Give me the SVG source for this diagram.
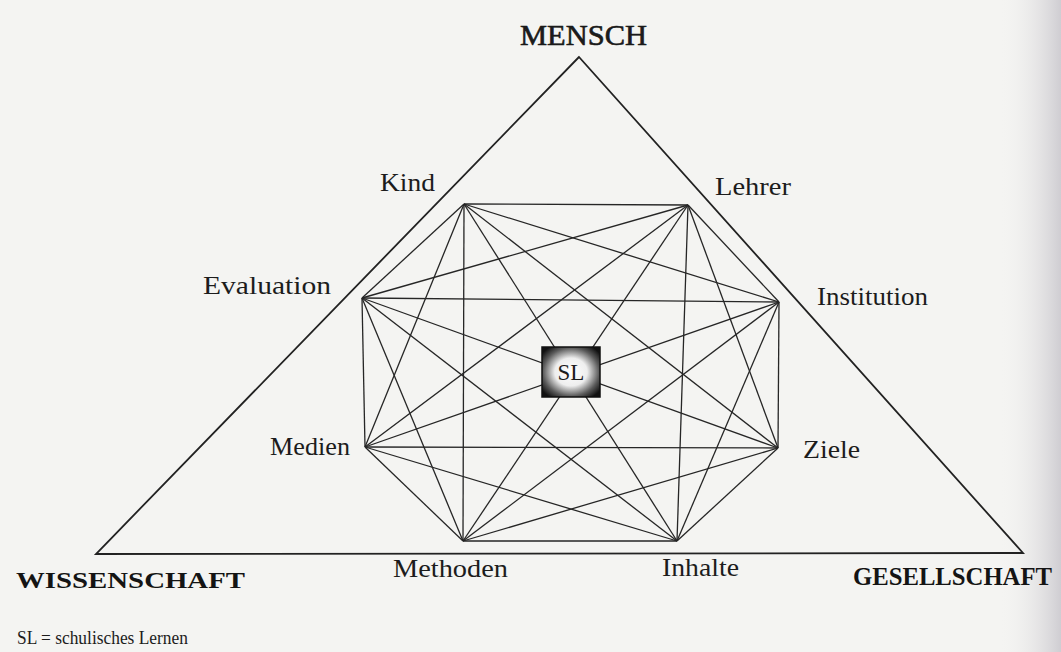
<svg xmlns="http://www.w3.org/2000/svg" width="1061" height="652" viewBox="0 0 1061 652">
<defs>
<radialGradient id="slg" cx="0.5" cy="0.5" r="0.62">
<stop offset="0" stop-color="#ffffff"/>
<stop offset="0.45" stop-color="#eeeeee"/>
<stop offset="0.78" stop-color="#5a5a5a"/>
<stop offset="1" stop-color="#111"/>
</radialGradient>
<linearGradient id="edge" x1="0" y1="0" x2="1" y2="0">
<stop offset="0" stop-color="#f3f3f1" stop-opacity="0"/>
<stop offset="1" stop-color="#cfcdd2"/>
</linearGradient>
<style>
.t{font-family:"Liberation Serif","Times New Roman",serif;fill:#1c1c1c;font-size:26px}
.b{font-family:"Liberation Serif","Times New Roman",serif;fill:#141414;font-size:24px;font-weight:bold}
.e{stroke:#262626;stroke-width:1.3;fill:none}
.tri{stroke:#222;stroke-width:1.8;fill:none}
</style>
</defs>
<rect width="1061" height="652" fill="#f4f4f2"/>
<rect x="1000" y="0" width="61" height="652" fill="url(#edge)"/>
<polygon class="tri" points="579,57 96,554 1023,553"/>
<g id="connectors">
<line class="e" x1="464" y1="204" x2="688" y2="205"/>
<line class="e" x1="464" y1="204" x2="779" y2="302"/>
<line class="e" x1="464" y1="204" x2="778" y2="448"/>
<line class="e" x1="464" y1="204" x2="677" y2="541"/>
<line class="e" x1="464" y1="204" x2="463" y2="541"/>
<line class="e" x1="464" y1="204" x2="365" y2="447"/>
<line class="e" x1="464" y1="204" x2="362" y2="298"/>
<line class="e" x1="688" y1="205" x2="779" y2="302"/>
<line class="e" x1="688" y1="205" x2="778" y2="448"/>
<line class="e" x1="688" y1="205" x2="677" y2="541"/>
<line class="e" x1="688" y1="205" x2="463" y2="541"/>
<line class="e" x1="688" y1="205" x2="365" y2="447"/>
<line class="e" x1="688" y1="205" x2="362" y2="298"/>
<line class="e" x1="779" y1="302" x2="778" y2="448"/>
<line class="e" x1="779" y1="302" x2="677" y2="541"/>
<line class="e" x1="779" y1="302" x2="463" y2="541"/>
<line class="e" x1="779" y1="302" x2="365" y2="447"/>
<line class="e" x1="779" y1="302" x2="362" y2="298"/>
<line class="e" x1="778" y1="448" x2="677" y2="541"/>
<line class="e" x1="778" y1="448" x2="463" y2="541"/>
<line class="e" x1="778" y1="448" x2="365" y2="447"/>
<line class="e" x1="778" y1="448" x2="362" y2="298"/>
<line class="e" x1="677" y1="541" x2="463" y2="541"/>
<line class="e" x1="677" y1="541" x2="365" y2="447"/>
<line class="e" x1="677" y1="541" x2="362" y2="298"/>
<line class="e" x1="463" y1="541" x2="365" y2="447"/>
<line class="e" x1="463" y1="541" x2="362" y2="298"/>
<line class="e" x1="365" y1="447" x2="362" y2="298"/>
</g>
<g id="node-SL">
<rect x="542" y="347" width="58" height="50" fill="url(#slg)" stroke="#111" stroke-width="1.5"/>
<text class="t" x="571" y="380" text-anchor="middle" style="font-size:23px">SL</text>
</g>
<g id="node-MENSCH"><text class="t" x="520" y="45" textLength="127" lengthAdjust="spacingAndGlyphs" stroke="#141414" stroke-width="0.6" style="font-size:30px">MENSCH</text></g>
<g id="node-WISSENSCHAFT"><text class="b" x="16" y="588" textLength="229" lengthAdjust="spacingAndGlyphs">WISSENSCHAFT</text></g>
<g id="node-GESELLSCHAFT"><text class="b" x="853" y="585" textLength="199" lengthAdjust="spacingAndGlyphs" style="font-size:25px">GESELLSCHAFT</text></g>
<g id="node-Kind"><text class="t" x="380" y="191" textLength="55" lengthAdjust="spacingAndGlyphs">Kind</text></g>
<g id="node-Lehrer"><text class="t" x="715" y="195" textLength="76" lengthAdjust="spacingAndGlyphs">Lehrer</text></g>
<g id="node-Evaluation"><text class="t" x="203" y="294" textLength="128" lengthAdjust="spacingAndGlyphs">Evaluation</text></g>
<g id="node-Institution"><text class="t" x="817" y="305" textLength="111" lengthAdjust="spacingAndGlyphs">Institution</text></g>
<g id="node-Medien"><text class="t" x="270" y="455" textLength="80" lengthAdjust="spacingAndGlyphs">Medien</text></g>
<g id="node-Ziele"><text class="t" x="803" y="458" textLength="57" lengthAdjust="spacingAndGlyphs">Ziele</text></g>
<g id="node-Methoden"><text class="t" x="393" y="577" textLength="115" lengthAdjust="spacingAndGlyphs">Methoden</text></g>
<g id="node-Inhalte"><text class="t" x="662" y="576" textLength="77" lengthAdjust="spacingAndGlyphs">Inhalte</text></g>
<text class="t" x="17" y="644" textLength="171" lengthAdjust="spacingAndGlyphs" style="font-size:18px">SL = schulisches Lernen</text>
</svg>
